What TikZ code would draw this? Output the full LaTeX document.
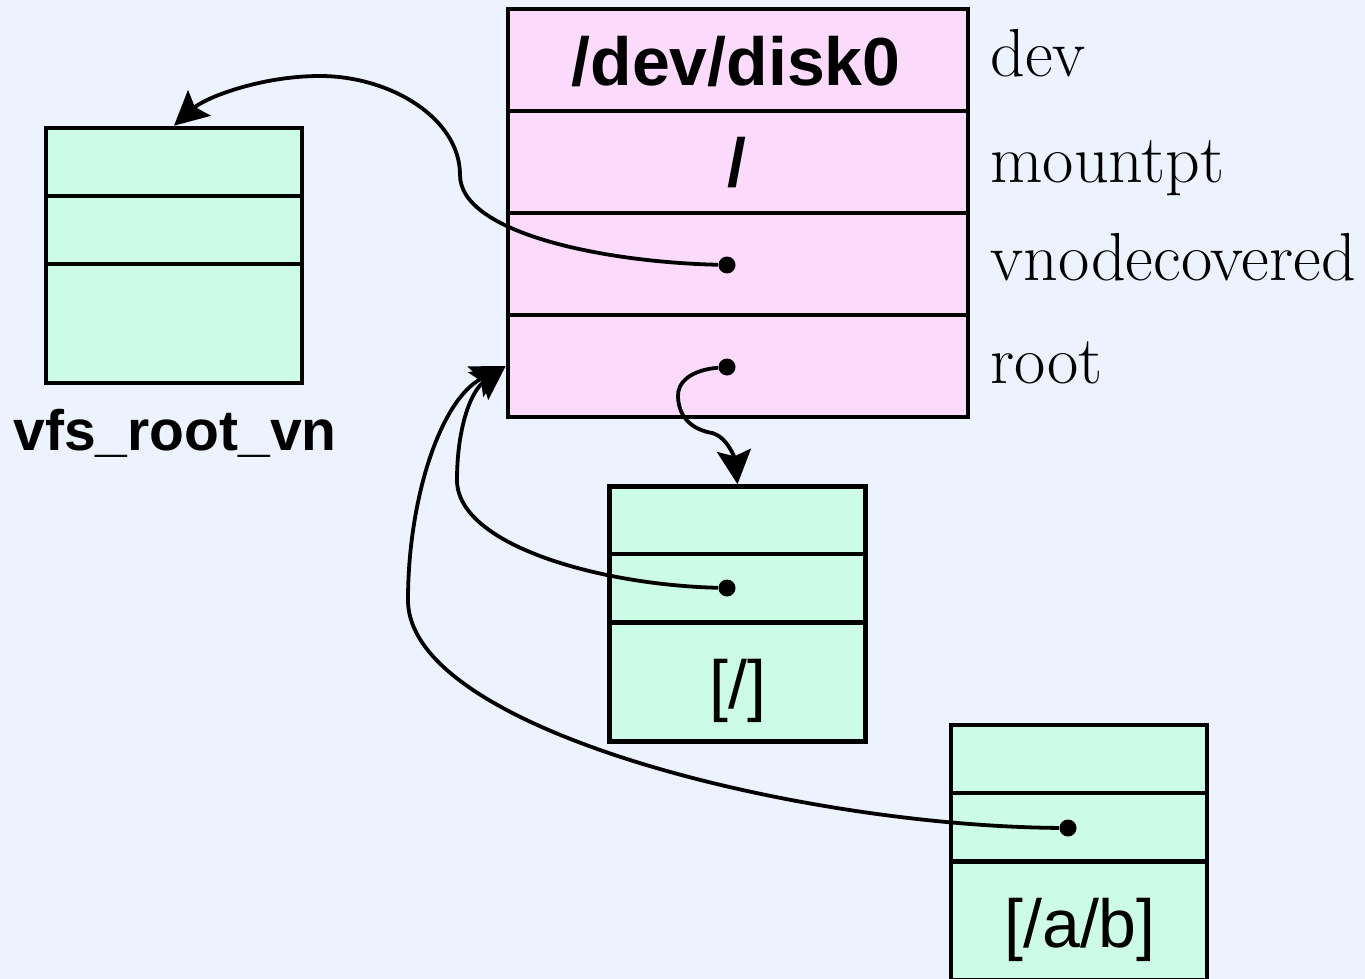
\documentclass[tikz,border=0pt]{standalone}
\usepackage{fontspec}
\newfontfamily\sansfont{Liberation Sans}
\usetikzlibrary{arrows.meta}
\definecolor{bg}{RGB}{236,242,254}
\definecolor{pinkrow}{RGB}{252,218,252}
\definecolor{greenrow}{RGB}{204,252,232}
\begin{document}
\begin{tikzpicture}[x=0.5pt,y=-0.5pt,
  cellbase/.style={draw=black, line width=2.3pt, inner sep=0pt},
  pinkcell/.style={cellbase, fill=pinkrow, minimum width=230pt, minimum height=51pt},
  gshort/.style={cellbase, fill=greenrow, minimum width=128pt, minimum height=34pt},
  gtall/.style={cellbase, fill=greenrow, minimum width=128pt, minimum height=59.5pt},
  dot/.style={circle, fill=black, inner sep=0pt, minimum size=8.5pt},
  wire/.style={line width=1.9pt, -{Stealth[length=17pt,width=17pt,inset=3pt]}},
  fieldname/.style={anchor=base west, inner sep=0pt, font=\fontsize{34}{40}\selectfont},
  boldlabel/.style={anchor=base, inner sep=0pt, font=\sansfont\bfseries\fontsize{34}{40}\selectfont},
  pathlabel/.style={anchor=base, inner sep=0pt, font=\sansfont\fontsize{34}{40}\selectfont}
]
\useasboundingbox (0,0) rectangle (1365,979);
\fill[bg] (0,0) rectangle (1365,979);

% mount structure
\node[pinkcell] (p1) at (738,60) {};
\node[pinkcell] (p2) at (738,162) {};
\node[pinkcell] (p3) at (738,264) {};
\node[pinkcell] (p4) at (738,366) {};
\node[boldlabel] (devname) at (736,86) {/dev/disk0};
\node[boldlabel] (mpname) at (737,186) {/};

% field names
\node[fieldname] (fdev) at (990,77) {dev};
\node[fieldname] (fmount) at (990,182) {mountpt};
\node[fieldname] (fcov) at (990,280) {vnodecovered};
\node[fieldname] (froot) at (990,383) {root};

% vfs_root_vn vnode
\node[gshort] (v1) at (174,162) {};
\node[gshort] (v2) at (174,230) {};
\node[gtall]  (v3) at (174,323.5) {};
\node[boldlabel, font=\sansfont\bfseries\fontsize{28.5}{34}\selectfont] (vname) at (175,450) {vfs\_root\_vn};

% root vnode [/]
\node[gshort] (c1) at (737.5,520.5) {};
\node[gshort] (c2) at (737.5,588) {};
\node[gtall]  (c3) at (737.5,682) {};
\node[pathlabel] (cname) at (738,708) {[/]};

% vnode [/a/b]
\node[gshort] (e1) at (1079,759) {};
\node[gshort] (e2) at (1079,827) {};
\node[gtall]  (e3) at (1079,921) {};
\node[pathlabel] (ename) at (1080,947) {[/a/b]};

% pointer dots
\node[dot] (d1) at (727,265) {};
\node[dot] (d2) at (727,367) {};
\node[dot] (d3) at (727,588) {};
\node[dot] (d4) at (1068,828) {};

% pointers
\draw[wire] (d1) .. controls (600,262) and (460,232) .. (460,175)
  .. controls (460,118) and (390,76) .. (320,76)
  .. controls (260,76) and (205,98) .. (v1.north);
\draw[wire] (d2) .. controls (690,370) and (677,383) .. (678,397)
  .. controls (679,420) and (695,430) .. (712,433)
  .. controls (728,437) and (735,460) .. (c1.north);
\draw[wire] (d3) .. controls (600,585) and (457,545) .. (457,480)
  .. controls (457,430) and (470,392) .. (p4.west);
\draw[wire] (d4) .. controls (800,826) and (408,730) .. (408,600)
  .. controls (408,500) and (440,400) .. (p4.west);
\end{tikzpicture}
\end{document}
